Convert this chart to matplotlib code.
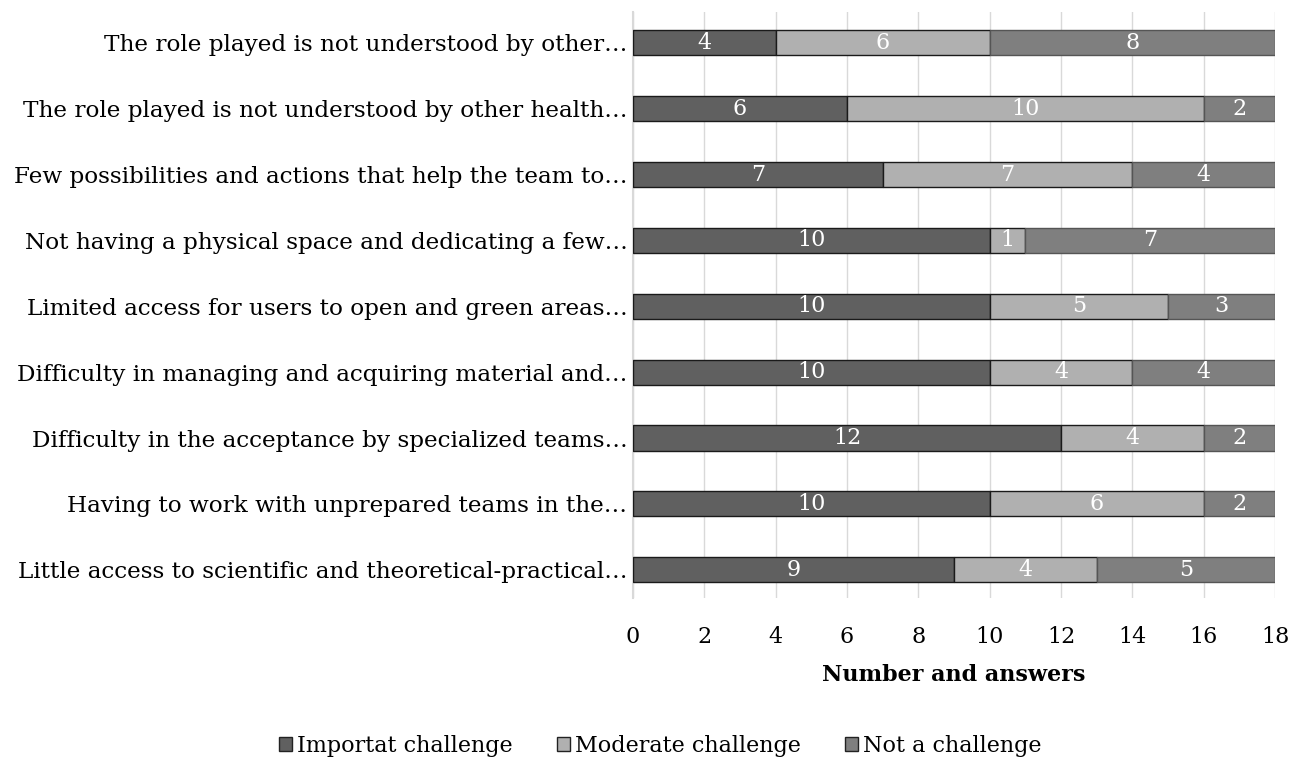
import numpy as np
import matplotlib.pyplot as plt
from matplotlib.patches import Patch

plt.rcParams['font.family'] = ['DejaVu Serif']

# data, top to bottom as shown in the chart
categories = [
    "The role played is not understood by other\u2026",
    "The role played is not understood by other health\u2026",
    "Few possibilities and actions that help the team to\u2026",
    "Not having a physical space and dedicating a few\u2026",
    "Limited access for users to open and green areas\u2026",
    "Difficulty in managing and acquiring material and\u2026",
    "Difficulty in the acceptance by specialized teams\u2026",
    "Having to work with unprepared teams in the\u2026",
    "Little access to scientific and theoretical-practical\u2026",
]
important = [4, 6, 7, 10, 10, 10, 12, 10, 9]
moderate = [6, 10, 7, 1, 5, 4, 4, 6, 4]
not_challenge = [8, 2, 4, 7, 3, 4, 2, 2, 5]
series_names = ["Importat challenge", "Moderate challenge", "Not a challenge"]
colors = ["#606060", "#B0B0B0", "#7F7F7F"]
edges = ["#1A1A1A", "#1A1A1A", "#555555"]

fs = 16

fig = plt.figure(figsize=(12.99, 7.59), dpi=100)
ax = fig.add_axes([633/1299, 1 - 598/759, (1275-633)/1299, (598-12)/759])

y = np.arange(len(categories))[::-1]
left = np.zeros(len(categories))
for vals, col, ec in zip([important, moderate, not_challenge], colors, edges):
    vals = np.array(vals)
    ax.barh(y, vals, left=left, height=0.38, color=col,
            edgecolor=ec, linewidth=1.0, zorder=3)
    for yi, l, v in zip(y, left, vals):
        ax.text(l + v / 2, yi, str(v), ha='center', va='center',
                color='white', fontsize=fs, zorder=4)
    left = left + vals

ax.set_xlim(0, 18)
ax.set_xticks(np.arange(0, 19, 2))
ax.set_ylim(-0.43, len(categories) - 0.53)
ax.set_yticks(y)
ax.set_yticklabels(categories, fontsize=16.7)
ax.tick_params(axis='x', labelsize=fs, length=0, pad=20)
ax.tick_params(axis='y', length=0, pad=4)
ax.grid(axis='x', color='#D9D9D9', linewidth=1, zorder=0)
for s in ['top', 'right', 'bottom']:
    ax.spines[s].set_visible(False)
ax.spines['left'].set_color('#D9D9D9')
ax.spines['left'].set_linewidth(1.5)
ax.set_xlabel("Number and answers", fontsize=fs, fontweight='bold', labelpad=12)

handles = [Patch(facecolor=c, edgecolor='#222222', linewidth=1) for c in colors]
fig.legend(handles, series_names, loc='center', bbox_to_anchor=(660/1299, 1 - 746/759),
           ncol=3, frameon=False, fontsize=fs, handlelength=0.6, handleheight=0.6,
           handletextpad=0.2, columnspacing=2.0)

fig.savefig("out.png", dpi=100)
